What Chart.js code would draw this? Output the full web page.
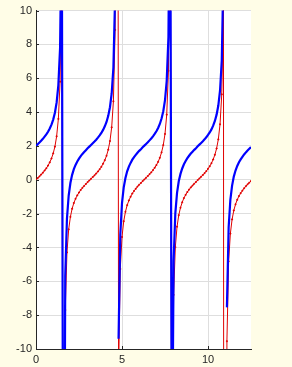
<!DOCTYPE html>
<html>
<head>
<meta charset="utf-8">
<script src="https://cdn.jsdelivr.net/npm/chart.js@4/dist/chart.umd.min.js"></script>
<style>
html,body{margin:0;padding:0;background:#fffde7;}
canvas{display:block;}
</style>
</head>
<body>
<canvas id="c" width="292" height="367" style="width:292px;height:367px"></canvas>
<script>
// sample positions (x)
const xs = [
 0.0,0.1,0.2,0.3,0.4,0.5,0.6,0.7,0.8,0.9,
 1.0,1.1,1.2,1.3,1.4,1.5,1.6,1.7,1.8,1.9,
 2.0,2.1,2.2,2.3,2.4,2.5,2.6,2.7,2.8,2.9,
 3.0,3.1,3.2,3.3,3.4,3.5,3.6,3.7,3.8,3.9,
 4.0,4.1,4.2,4.3,4.4,4.5,4.6,4.7,4.8,4.9,
 5.0,5.1,5.2,5.3,5.4,5.5,5.6,5.7,5.8,5.9,
 6.0,6.1,6.2,6.3,6.4,6.5,6.6,6.7,6.8,6.9,
 7.0,7.1,7.2,7.3,7.4,7.5,7.6,7.7,7.8,7.9,
 8.0,8.1,8.2,8.3,8.4,8.5,8.6,8.7,8.8,8.9,
 9.0,9.1,9.2,9.3,9.4,9.5,9.6,9.7,9.8,9.9,
 10.0,10.1,10.2,10.3,10.4,10.5,10.6,10.7,10.8,10.9,
 11.0,11.1,11.2,11.3,11.4,11.5,11.6,11.7,11.8,11.9,
 12.0,12.1,12.2,12.3,12.4,12.5
];
// red series (thin, with markers)
const redVals = [
 0,0.10,0.20,0.31,0.42,0.55,0.68,0.84,1.03,1.26,
 1.56,1.96,2.57,3.60,5.80,14.10,-34.23,-7.70,-4.29,-2.93,
 -2.19,-1.71,-1.37,-1.12,-0.92,-0.75,-0.60,-0.47,-0.36,-0.25,
 -0.14,-0.04,0.06,0.16,0.26,0.37,0.49,0.62,0.77,0.95,
 1.16,1.42,1.78,2.29,3.10,4.64,8.86,80.71,-11.39,-5.27,
 -3.38,-2.45,-1.89,-1.50,-1.22,-1.00,-0.81,-0.66,-0.53,-0.40,
 -0.29,-0.19,-0.08,0.02,0.12,0.22,0.33,0.44,0.57,0.71,
 0.87,1.06,1.30,1.62,2.05,2.71,3.85,6.44,18.50,-21.72,
 -6.80,-3.98,-2.77,-2.09,-1.65,-1.33,-1.08,-0.89,-0.72,-0.58,
 -0.45,-0.34,-0.23,-0.13,-0.02,0.08,0.18,0.28,0.39,0.51,
 0.65,0.80,0.98,1.20,1.48,1.85,2.39,3.28,5.05,10.43,
 -225.95,-9.54,-4.82,-3.18,-2.34,-1.81,-1.45,-1.18,-0.96,-0.79,
 -0.64,-0.50,-0.38,-0.27,-0.17,-0.07
];
// blue series (thick)
const blueVals = [
 2.00,2.10,2.20,2.31,2.42,2.55,2.68,2.84,3.03,3.26,
 3.56,3.96,4.57,5.60,7.80,16.10,-32.23,-5.70,-2.29,-0.93,
 -0.19,0.29,0.63,0.88,1.08,1.25,1.40,1.53,1.64,1.75,
 1.86,1.96,2.06,2.16,2.26,2.37,2.49,2.62,2.77,2.95,
 3.16,3.42,3.78,4.29,5.10,6.64,10.86,null,-9.39,-3.27,
 -1.38,-0.45,0.11,0.50,0.78,1.00,1.19,1.34,1.47,1.60,
 1.71,1.81,1.92,2.02,2.12,2.22,2.33,2.44,2.57,2.71,
 2.87,3.06,3.30,3.62,4.05,4.71,5.85,8.44,20.50,-19.72,
 -4.80,-1.98,-0.77,-0.09,0.35,0.67,0.92,1.11,1.28,1.42,
 1.55,1.66,1.77,1.87,1.98,2.08,2.18,2.28,2.39,2.51,
 2.65,2.80,2.98,3.20,3.48,3.85,4.39,5.28,7.05,12.43,
 null,-7.54,-2.82,-1.18,-0.34,0.19,0.55,0.82,1.04,1.21,
 1.36,1.50,1.62,1.73,1.83,1.93
];
const xTicks = [0, 5, 10];
const yTicks = [-10,-8,-6,-4,-2,0,2,4,6,8,10];

const toPts = (vals) => xs.map((x, i) => ({x: x, y: vals[i]}));

const bgPlugin = {
  id: 'bg',
  beforeDraw(chart) {
    const {ctx, chartArea: a} = chart;
    ctx.save();
    ctx.fillStyle = '#fffde7';
    ctx.fillRect(0, 0, chart.width, chart.height);
    ctx.fillStyle = '#ffffff';
    ctx.fillRect(a.left, a.top, a.right - a.left, a.bottom - a.top);
    ctx.restore();
  },
  afterDraw(chart) {
    const {ctx, chartArea: a, scales} = chart;
    ctx.save();
    ctx.strokeStyle = '#262626';
    ctx.lineWidth = 1;
    ctx.beginPath();
    yTicks.forEach(v => {
      const y = Math.round(scales.y.getPixelForValue(v)) + 0.5;
      ctx.moveTo(a.left, y); ctx.lineTo(a.left + 3, y);
    });
    xTicks.forEach(v => {
      const x = Math.round(scales.x.getPixelForValue(v)) + 0.5;
      ctx.moveTo(x, a.bottom); ctx.lineTo(x, a.bottom - 3);
    });
    ctx.stroke();
    ctx.restore();
  }
};

new Chart(document.getElementById('c'), {
  type: 'line',
  data: {
    datasets: [
      {
        label: 'blue',
        data: toPts(blueVals),
        borderColor: '#0000ff',
        borderWidth: 2.2,
        pointRadius: 0,
        spanGaps: false,
        tension: 0,
        order: 0,
        clip: 0
      },
      {
        label: 'red',
        data: toPts(redVals),
        borderColor: '#e00000',
        borderWidth: 1,
        pointRadius: 1,
        pointStyle: 'cross',
        pointBorderColor: '#e00000',
        pointBorderWidth: 1,
        tension: 0,
        order: 1,
        clip: 0
      }
    ]
  },
  options: {
    responsive: false,
    devicePixelRatio: 1,
    animation: false,
    layout: { padding: { top: 7, right: 41, left: 0, bottom: 0 } },
    plugins: { legend: { display: false }, tooltip: { enabled: false } },
    scales: {
      x: {
        type: 'linear',
        min: 0, max: 12.5,
        afterBuildTicks(s) { s.ticks = xTicks.map(v => ({value: v})); },
        afterFit(s) { s.height = 18; },
        grid: { color: '#dedede', lineWidth: 1, drawTicks: false },
        border: { display: true, color: '#262626', width: 1 },
        ticks: { color: '#262626', font: { family: 'Liberation Sans, Arial, sans-serif', size: 11 }, padding: 4, maxRotation: 0 }
      },
      y: {
        type: 'linear',
        min: -10, max: 10,
        afterBuildTicks(s) { s.ticks = yTicks.map(v => ({value: v})); },
        afterFit(s) { s.width = 36; },
        grid: { color: '#dedede', lineWidth: 1, drawTicks: false },
        border: { display: true, color: '#262626', width: 1 },
        ticks: { color: '#262626', font: { family: 'Liberation Sans, Arial, sans-serif', size: 11 }, padding: 4 }
      }
    }
  },
  plugins: [bgPlugin]
});
</script>
</body>
</html>
